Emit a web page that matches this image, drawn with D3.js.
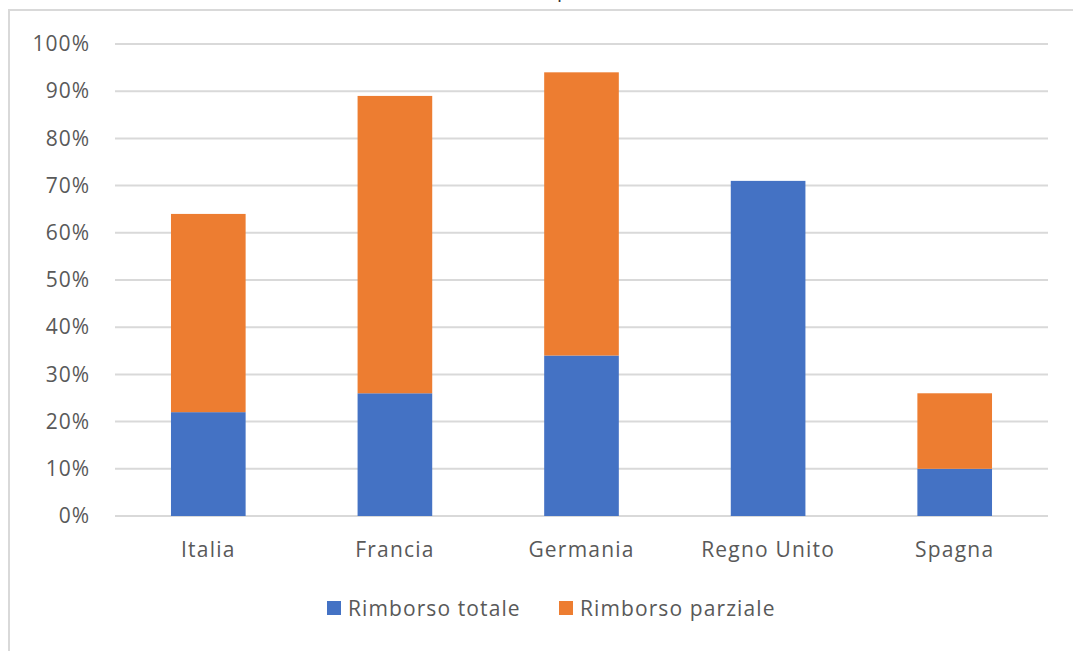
<!DOCTYPE html>
<html>
<head>
<meta charset="utf-8">
<script src="https://cdn.jsdelivr.net/npm/d3@7"></script>
<style>
  body { margin: 0; background: #fff; }
  svg { display: block; font-family: "Open Sans", "Noto Sans", sans-serif; }
</style>
</head>
<body>
<svg id="chart" width="1073" height="651"></svg>
<script>
// data (percent)
const paesi = ["Italia", "Francia", "Germania", "Regno Unito", "Spagna"];
const rimborsoTotale = [22, 26, 34, 71, 10];
const rimborsoParziale = [42, 63, 60, 0, 16];
const serie = ["Rimborso totale", "Rimborso parziale"];
const colori = ["#4472C4", "#ED7D31"];
const yTicks = [0, 10, 20, 30, 40, 50, 60, 70, 80, 90, 100];

const svg = d3.select("#chart");
const margin = { left: 115, right: 25, top: 44, bottom: 135 };
const width = 1073, height = 651;
const font = "\"Open Sans\", \"Noto Sans\", sans-serif";

// chart frame (top and left edges visible)
svg.append("path")
    .attr("d", "M9,651 V10 H1073")
    .attr("fill", "none")
    .attr("stroke", "#d9d9d9")
    .attr("stroke-width", 2);

// clipped title, only a descender shows
svg.append("text")
    .attr("x", 563)
    .attr("y", -3)
    .attr("text-anchor", "middle")
    .attr("font-size", 20)
    .attr("fill", "#333")
    .text("p");

const x = d3.scaleBand()
    .domain(paesi)
    .range([margin.left, width - margin.right])
    .paddingInner(0.6)
    .paddingOuter(0.3);

const y = d3.scaleLinear()
    .domain([0, 100])
    .range([height - margin.bottom, margin.top]);

// gridlines
svg.append("g")
    .selectAll("line")
    .data(yTicks)
    .enter()
    .append("line")
    .attr("x1", margin.left)
    .attr("x2", width - margin.right)
    .attr("y1", d => y(d))
    .attr("y2", d => y(d))
    .attr("stroke", "#d9d9d9")
    .attr("stroke-width", 2);

// y labels
const yAxis = svg.append("g")
    .attr("transform", "translate(" + (margin.left - 22) + ",0)")
    .call(d3.axisLeft(y).tickValues(yTicks).tickSize(0).tickFormat(d => d + "%"));
yAxis.select(".domain").remove();
yAxis.selectAll("text")
    .attr("font-size", 21)
    .attr("letter-spacing", 1)
    .attr("font-family", font)
    .attr("fill", "#595959");

// stacked bars
const table = paesi.map((p, i) => ({ paese: p, t: rimborsoTotale[i], p: rimborsoParziale[i] }));
const stacked = d3.stack().keys(["t", "p"])(table);

svg.append("g")
    .selectAll("g")
    .data(stacked)
    .enter()
    .append("g")
    .attr("fill", (d, i) => colori[i])
    .selectAll("rect")
    .data(d => d.filter(s => s[1] > s[0]))
    .enter()
    .append("rect")
    .attr("x", d => x(d.data.paese))
    .attr("width", x.bandwidth())
    .attr("y", d => y(d[1]))
    .attr("height", d => y(d[0]) - y(d[1]));

// category labels
const xAxis = svg.append("g")
    .attr("transform", "translate(0," + (y(0) + 23) + ")")
    .call(d3.axisBottom(x).tickSize(0));
xAxis.select(".domain").remove();
xAxis.selectAll("text")
    .attr("font-size", 21)
    .attr("letter-spacing", 1.2)
    .attr("font-family", font)
    .attr("fill", "#595959");

// legend
const legendX = [327, 559];
const legend = svg.append("g")
    .selectAll("g")
    .data(serie)
    .enter()
    .append("g")
    .attr("transform", (d, i) => "translate(" + legendX[i] + ",601)");
legend.append("rect")
    .attr("width", 14)
    .attr("height", 14)
    .attr("fill", (d, i) => colori[i]);
legend.append("text")
    .attr("x", 21)
    .attr("y", 15)
    .attr("font-size", 21)
    .attr("letter-spacing", 1.1)
    .attr("fill", "#595959")
    .text(d => d);
</script>
</body>
</html>
